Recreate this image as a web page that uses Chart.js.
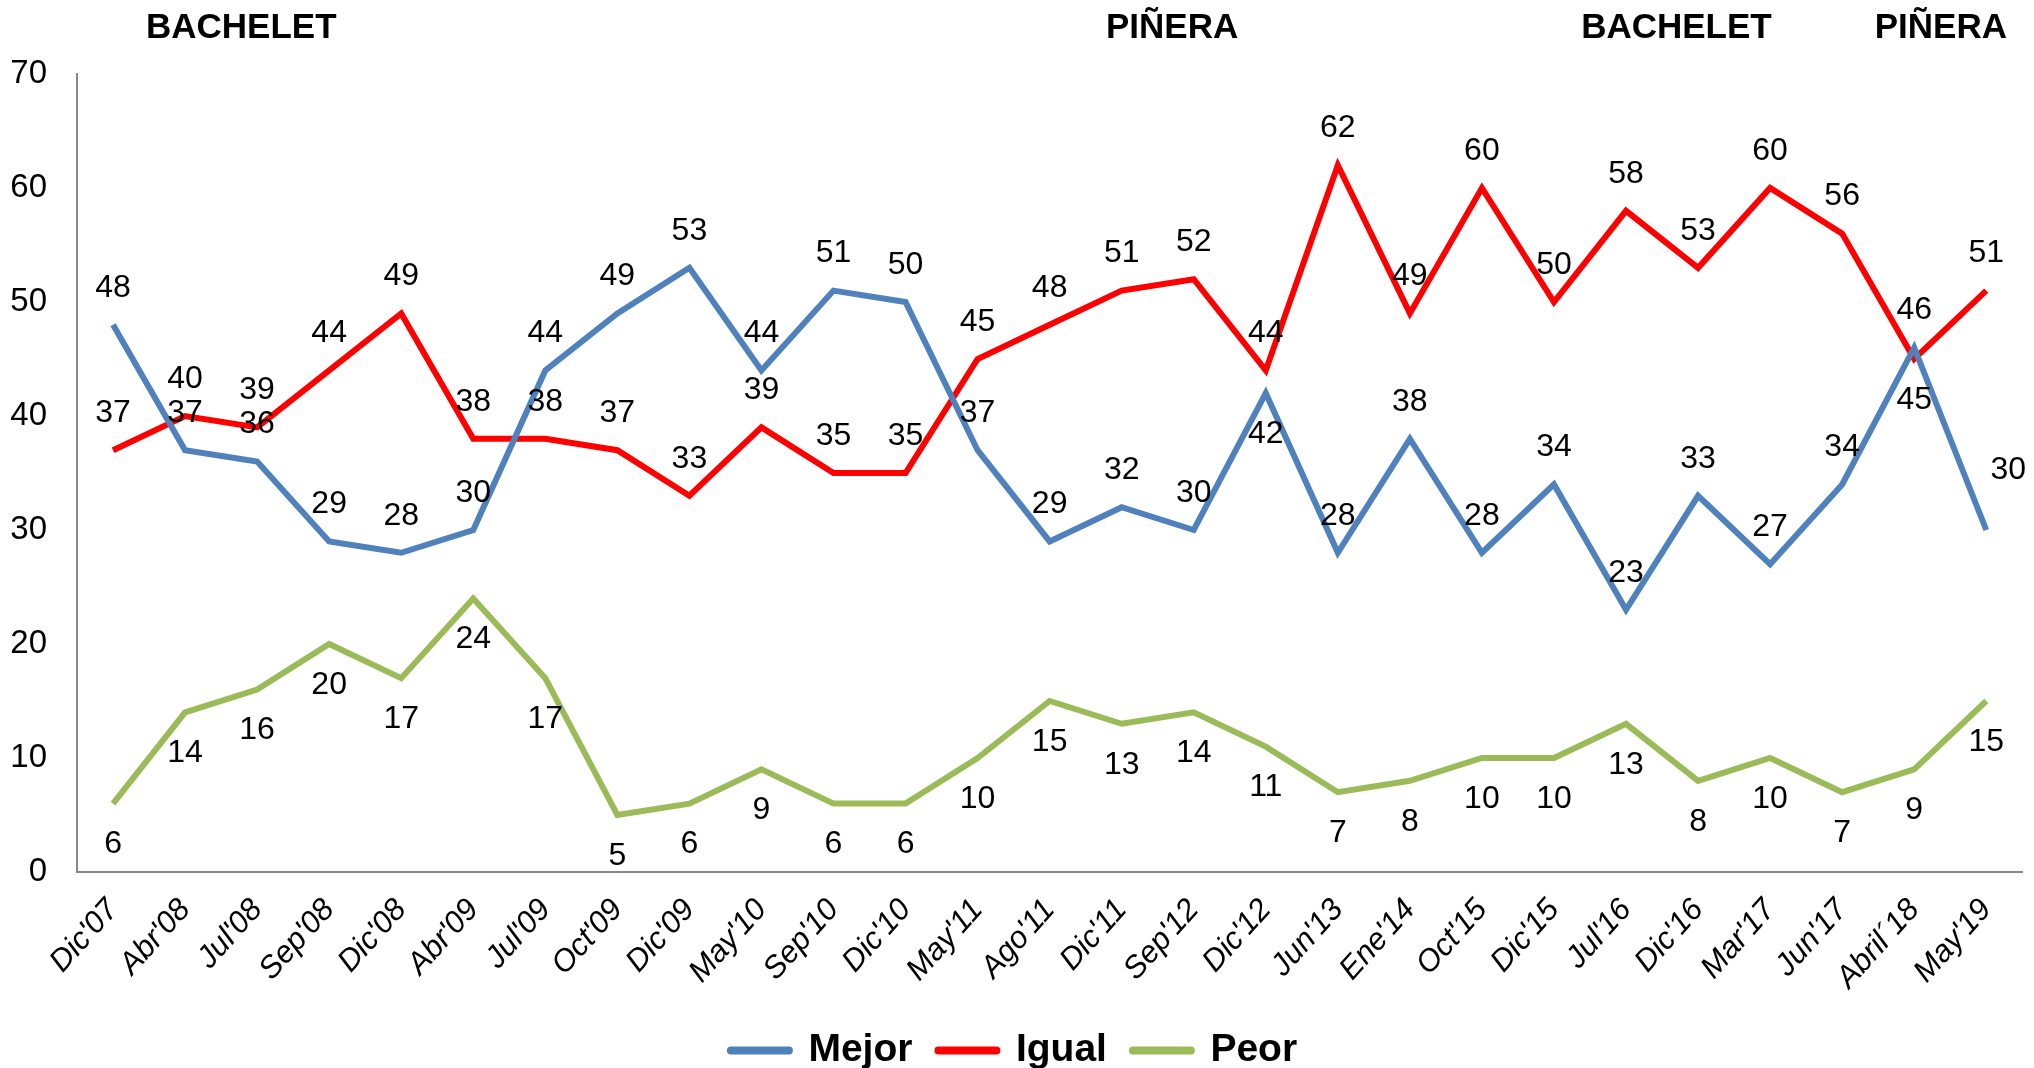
<!DOCTYPE html>
<html>
<head>
<meta charset="utf-8">
<script src="https://cdn.jsdelivr.net/npm/chart.js@4.4.0/dist/chart.umd.min.js"></script>
<style>
    html, body { margin: 0; padding: 0; background: #fff; }
</style>
</head>
<body>
<canvas id="chart" width="2034" height="1068"></canvas>
<script>
const categories = ["Dic'07", "Abr'08", "Jul'08", "Sep'08", "Dic'08", "Abr'09", "Jul'09", "Oct'09", "Dic'09",
    "May'10", "Sep'10", "Dic'10", "May'11", "Ago'11", "Dic'11", "Sep'12", "Dic'12", "Jun'13", "Ene'14",
    "Oct'15", "Dic'15", "Jul'16", "Dic'16", "Mar'17", "Jun'17", "Abril´18", "May'19"];

const mejor = [48, 37, 36, 29, 28, 30, 44, 49, 53, 44, 51, 50, 37, 29, 32, 30, 42, 28, 38, 28, 34, 23, 33, 27, 34, 46, 30];
const igual = [37, 40, 39, 44, 49, 38, 38, 37, 33, 39, 35, 35, 45, 48, 51, 52, 44, 62, 49, 60, 50, 58, 53, 60, 56, 45, 51];
const peor  = [6, 14, 16, 20, 17, 24, 17, 5, 6, 9, 6, 6, 10, 15, 13, 14, 11, 7, 8, 10, 10, 13, 8, 10, 7, 9, 15];

const yMin = 0;
const yMax = 70;
const yStep = 10;

// government periods written above the plot, anchored on the category index
const periodLabels = ['BACHELET', 'PIÑERA', 'BACHELET', 'PIÑERA'];
const periodAt = [1.78, 14.7, 21.7, 25.37];

const FONT = "'Liberation Sans', Arial, sans-serif";

// value labels: side per series, with a few points flipped like in the original
const labelSide = ['above', 'above', 'below'];
const labelFlip = [[16], [25], []];

const valueLabels = {
    id: 'valueLabels',
    afterDatasetsDraw(chart) {
        const ctx = chart.ctx;
        ctx.save();
        ctx.font = '32px ' + FONT;
        ctx.fillStyle = '#000';
        ctx.textAlign = 'center';
        ctx.textBaseline = 'middle';
        chart.data.datasets.forEach((ds, di) => {
            const meta = chart.getDatasetMeta(di);
            const last = meta.data.length - 1;
            meta.data.forEach((pt, i) => {
                let above = labelSide[di] === 'above';
                if (labelFlip[di].includes(i)) above = !above;
                let dy = above ? -37 : 41;
                let dx = 0;
                // last Mejor label sits up and to the right in the original
                if (di === 0 && i === last) { dx = 22; dy = -60; }
                ctx.fillText(String(ds.data[i]), pt.x + dx, pt.y + dy);
            });
        });
        ctx.restore();
    }
};

const periodTitles = {
    id: 'periodTitles',
    afterDraw(chart) {
        const ctx = chart.ctx;
        const xScale = chart.scales.x;
        ctx.save();
        ctx.font = 'bold 35px ' + FONT;
        ctx.fillStyle = '#000';
        ctx.textAlign = 'center';
        ctx.textBaseline = 'middle';
        periodLabels.forEach((txt, i) => {
            ctx.fillText(txt, xScale.getPixelForValue(periodAt[i]), 28);
        });
        ctx.restore();
    }
};

function series(label, data, color) {
    return {
        label: label,
        data: data,
        borderColor: color,
        backgroundColor: color,
        borderWidth: 6,
        pointRadius: 0,
        tension: 0,
        fill: false
    };
}

new Chart(document.getElementById('chart'), {
    type: 'line',
    data: {
        labels: categories,
        datasets: [
            series('Mejor', mejor, '#4F81BD'),
            series('Igual', igual, '#FF0000'),
            series('Peor', peor, '#9BBB59')
        ]
    },
    options: {
        responsive: false,
        animation: false,
        layout: {
            padding: { top: 74, right: 6, left: 0, bottom: -12 }
        },
        plugins: {
            tooltip: { enabled: false },
            legend: {
                position: 'bottom',
                labels: {
                    color: '#000',
                    font: { family: FONT, size: 39, weight: 'bold' },
                    usePointStyle: true,
                    pointStyleWidth: 58,
                    boxHeight: 8,
                    padding: 26,
                    generateLabels(chart) {
                        const items = Chart.defaults.plugins.legend.labels.generateLabels(chart);
                        items.forEach(it => {
                            it.pointStyle = 'line';
                            it.lineWidth = 8;
                            it.lineCap = 'round';
                        });
                        return items;
                    }
                }
            }
        },
        scales: {
            x: {
                offset: true,
                grid: { display: false, drawTicks: false },
                border: { display: true, color: '#888', width: 2 },
                ticks: {
                    color: '#000',
                    font: { family: FONT, size: 31, style: 'italic' },
                    minRotation: 48,
                    maxRotation: 48,
                    autoSkip: false,
                    padding: 20
                },
                afterFit(scale) { scale.height = 133; }
            },
            y: {
                min: yMin,
                max: yMax,
                grid: { display: false, drawTicks: false },
                border: { display: true, color: '#888', width: 2 },
                ticks: {
                    stepSize: yStep,
                    color: '#000',
                    font: { family: FONT, size: 33 },
                    padding: 30
                },
                afterFit(scale) { scale.width = 77; }
            }
        }
    },
    plugins: [valueLabels, periodTitles]
});
</script>
</body>
</html>
